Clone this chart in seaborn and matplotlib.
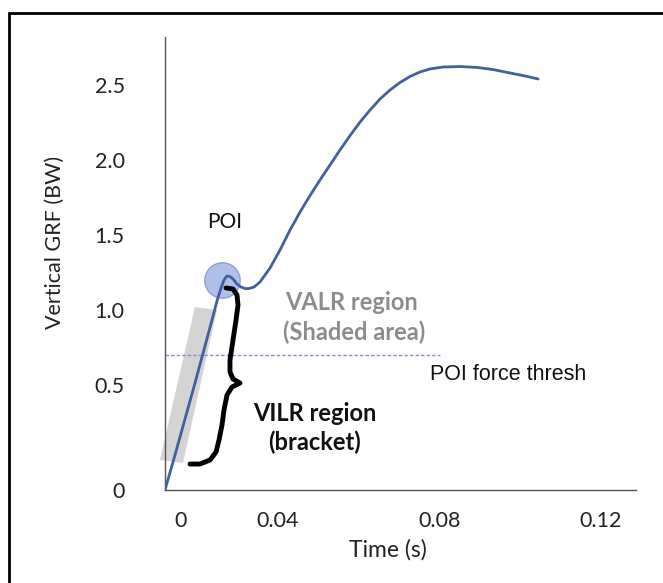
import numpy as np
import pandas as pd
import matplotlib
matplotlib.use("Agg")
import matplotlib.pyplot as plt
from matplotlib.lines import Line2D
from matplotlib.patches import Polygon
import seaborn as sns

# ---- data (schematic GRF curve) ----
time_s = [0.01193, 0.01441, 0.01689, 0.01938, 0.02186, 0.02360, 0.02484,
          0.02584, 0.02658, 0.02733, 0.02807, 0.02882, 0.02981, 0.03081,
          0.03180, 0.03280, 0.03404, 0.03553, 0.03801, 0.04050, 0.04298,
          0.04547, 0.04795, 0.05043, 0.05292, 0.05540, 0.05789, 0.06037,
          0.06286, 0.06534, 0.06783, 0.07031, 0.07280, 0.07528, 0.07776,
          0.08099, 0.08522, 0.08944, 0.09342, 0.09764, 0.10137, 0.10460]
grf_bw = [-0.200, 0.033, 0.273, 0.513, 0.760, 0.933, 1.060,
          1.147, 1.200, 1.227, 1.223, 1.207, 1.173, 1.153,
          1.143, 1.143, 1.153, 1.187, 1.280, 1.400, 1.533,
          1.653, 1.763, 1.867, 1.967, 2.067, 2.163, 2.253,
          2.333, 2.407, 2.467, 2.517, 2.557, 2.587, 2.607,
          2.620, 2.623, 2.617, 2.603, 2.580, 2.560, 2.540]

x_tick_pos = [0.0159, 0.04, 0.08, 0.12]
x_tick_labels = ["0", "0.04", "0.08", "0.12"]
y_tick_pos = [-0.2, 0.5, 1.0, 1.5, 2.0, 2.5]
y_tick_labels = ["0", "0.5", "1.0", "1.5", "2.0", "2.5"]

poi_time = [0.0261]
poi_grf = [1.20]
poi_thresh = 0.70
thresh_end = 0.0802

valr_band_t = [0.01068, 0.0164, 0.02484, 0.01938]
valr_band_v = [0.0, -0.02, 1.0, 1.02]

brace_t = [0.02708, 0.02882, 0.02981, 0.03006, 0.02957, 0.02882, 0.02807,
           0.02807, 0.02882, 0.03056, 0.02857, 0.02733, 0.02658, 0.02609,
           0.02534, 0.02460, 0.02311, 0.02062, 0.01814]
brace_v = [1.147, 1.14, 1.10, 1.033, 0.933, 0.80, 0.667, 0.587, 0.54, 0.513,
           0.487, 0.433, 0.333, 0.233, 0.133, 0.053, 0.0, -0.027, -0.027]

df = pd.DataFrame({"Time (s)": time_s, "Vertical GRF (BW)": grf_bw})

sns.set_theme(style="white")
plt.rcParams["font.family"] = ["Lato", "DejaVu Sans"]

fig = plt.figure(figsize=(6.63, 5.83), dpi=100)
ax = fig.add_axes([165 / 663, 1 - 490 / 583, 471 / 663, 453 / 583])

xmin, xmax = 0.01193, 0.1289
ymin, ymax = -0.2, 2.82
ax.set_xlim(xmin, xmax)
ax.set_ylim(ymin, ymax)

# VALR shaded band
band = Polygon(np.column_stack([valr_band_t, valr_band_v]), closed=True,
               facecolor="#d2d2d2", edgecolor="none", alpha=0.95, zorder=1,
               clip_on=False)
ax.add_patch(band)

# POI circle
sns.scatterplot(x=poi_time, y=poi_grf, s=650, color="#a3b5e6",
                edgecolor="#8096d4", linewidth=1.0, alpha=0.85, zorder=2,
                ax=ax, legend=False)

# threshold line
ax.plot([xmin, thresh_end], [poi_thresh, poi_thresh], color="#7f93cc",
        lw=1.0, ls=(0, (2.5, 1.5)), zorder=2)

# curve
sns.lineplot(data=df, x="Time (s)", y="Vertical GRF (BW)", color="#41609e",
             lw=2.0, ax=ax, zorder=4, sort=False)

# bracket
ax.plot(brace_t, brace_v, color="black", lw=3.5, solid_capstyle="round",
        solid_joinstyle="round", zorder=3, clip_on=False)

# annotations
ax.text(0.02683, 1.587, "POI", fontsize=15, ha="center", va="center",
        color="#111111")
ax.text(0.04174, 1.053, "VALR region", fontsize=17, fontweight="bold",
        ha="left", va="center", color="#8c8c8c")
ax.text(0.04124, 0.853, "(Shaded area)", fontsize=17, fontweight="bold",
        ha="left", va="center", color="#8c8c8c")
ax.text(0.04907, 0.313, "VILR region", fontsize=17, fontweight="bold",
        ha="center", va="center", color="#111111")
ax.text(0.04907, 0.120, "(bracket)", fontsize=17, fontweight="bold",
        ha="center", va="center", color="#111111")
ax.text(0.07776, 0.567, "POI force thresh", fontsize=15.5, ha="left",
        va="center", color="#111111", family=["Liberation Sans", "DejaVu Sans"])

# axes styling
ax.set_xticks(x_tick_pos)
ax.set_xticklabels(x_tick_labels)
ax.set_yticks(y_tick_pos)
ax.set_yticklabels(y_tick_labels)
ax.tick_params(axis="both", length=0, labelsize=15.5, colors="#222222")
ax.tick_params(axis="x", pad=15)
ax.tick_params(axis="y", pad=29)
for s in ["top", "right"]:
    ax.spines[s].set_visible(False)
for s in ["left", "bottom"]:
    ax.spines[s].set_color("#555555")
    ax.spines[s].set_linewidth(1.0)

ax.set_xlabel("Time (s)", fontsize=16.5, color="#222222")
ax.set_ylabel("Vertical GRF (BW)", fontsize=15.5, color="#222222")
ax.xaxis.set_label_coords(0.4735, -0.1325)
ax.xaxis.label.set_va("center")
ax.yaxis.set_label_coords(-0.2335, 0.5475)
ax.yaxis.label.set_va("center")

# outer frame (left and top edges)
fx = 9 / 663
fy = 1 - 13 / 583
fig.add_artist(Line2D([fx, fx], [0, fy], color="black", lw=2.0,
                      transform=fig.transFigure))
fig.add_artist(Line2D([fx, 1], [fy, fy], color="black", lw=2.0,
                      transform=fig.transFigure))

fig.savefig("out.png", dpi=100)
